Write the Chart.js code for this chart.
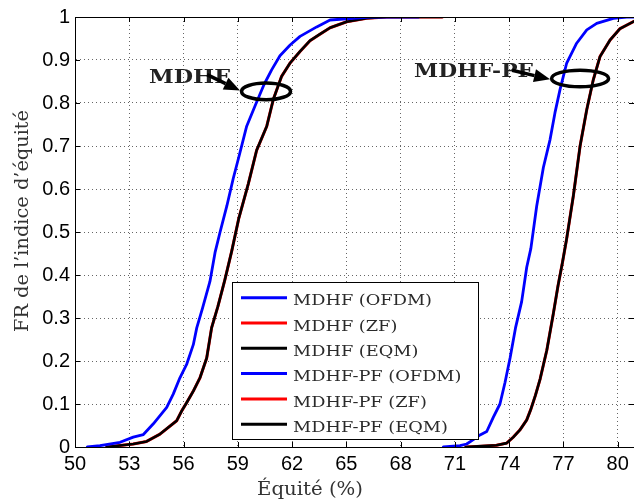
<!DOCTYPE html>
<html><head><meta charset="utf-8">
<script src="https://cdn.jsdelivr.net/npm/chart.js@4/dist/chart.umd.min.js"></script>
<style>html,body{margin:0;padding:0;background:#fff;overflow:hidden}canvas{display:block}</style>
</head><body>
<canvas id="c" width="634" height="501"></canvas>
<script>
// ---- tick labels ----
const xTicks = [50, 53, 56, 59, 62, 65, 68, 71, 74, 77, 80];
const yTicks = [0, 0.1, 0.2, 0.3, 0.4, 0.5, 0.6, 0.7, 0.8, 0.9, 1];
const xTitle = "Équité (%)";
const yTitle = "FR de l’indice d’équité";

// ---- series names ----
const seriesLabels = ["MDHF (OFDM)", "MDHF (ZF)", "MDHF (EQM)", "MDHF-PF (OFDM)", "MDHF-PF (ZF)", "MDHF-PF (EQM)"];

// ---- MDHF (OFDM) ----
const mdhfOfdmX = [50.68, 51.38, 52.49, 53.22, 53.78, 54.33, 55.07, 55.43, 55.80, 56.17, 56.54, 56.73, 57.05, 57.46, 57.74, 58.02, 58.39, 58.75, 59.06, 59.49, 59.95, 60.45, 60.87, 61.33, 61.89, 62.44, 63.36, 64.10, 65.38, 66.30, 69.00];
const mdhfOfdmF = [0, 0.003, 0.011, 0.023, 0.029, 0.054, 0.092, 0.123, 0.161, 0.192, 0.238, 0.277, 0.323, 0.385, 0.452, 0.500, 0.560, 0.625, 0.675, 0.746, 0.793, 0.843, 0.877, 0.910, 0.935, 0.955, 0.977, 0.993, 0.997, 1.000, 1.000];
// ---- MDHF (ZF) ----
const mdhfZfX = [51.75, 53.22, 53.96, 54.70, 55.62, 55.90, 56.17, 56.54, 56.91, 57.28, 57.55, 57.90, 58.28, 58.66, 59.05, 59.58, 60.04, 60.60, 60.96, 61.42, 61.89, 62.44, 62.99, 63.54, 64.10, 65.02, 66.12, 67.23, 70.30];
const mdhfZfF = [0, 0.007, 0.013, 0.030, 0.061, 0.084, 0.103, 0.130, 0.161, 0.207, 0.277, 0.327, 0.388, 0.455, 0.531, 0.612, 0.690, 0.746, 0.808, 0.862, 0.893, 0.920, 0.945, 0.960, 0.975, 0.989, 0.997, 1.000, 1.000];
// ---- MDHF (EQM) ----
const mdhfEqmX = [51.75, 53.22, 53.96, 54.70, 55.62, 55.90, 56.17, 56.54, 56.91, 57.28, 57.55, 57.90, 58.28, 58.66, 59.05, 59.58, 60.04, 60.60, 60.96, 61.42, 61.89, 62.44, 62.99, 63.54, 64.10, 65.02, 66.12, 67.23, 70.30];
const mdhfEqmF = [0, 0.007, 0.013, 0.030, 0.061, 0.084, 0.103, 0.130, 0.161, 0.207, 0.277, 0.327, 0.388, 0.455, 0.531, 0.612, 0.690, 0.746, 0.808, 0.862, 0.893, 0.920, 0.945, 0.960, 0.975, 0.989, 0.997, 1.000, 1.000];
// ---- MDHF-PF (OFDM) ----
const mdhfPfOfdmX = [70.36, 71.28, 71.65, 72.02, 72.39, 72.76, 73.12, 73.49, 73.77, 74.05, 74.35, 74.69, 74.97, 75.20, 75.52, 75.89, 76.26, 76.53, 76.81, 77.18, 77.73, 78.29, 78.84, 79.76, 80.50, 80.90];
const mdhfPfOfdmF = [0, 0.003, 0.007, 0.017, 0.028, 0.036, 0.069, 0.100, 0.150, 0.207, 0.277, 0.338, 0.418, 0.462, 0.560, 0.650, 0.715, 0.777, 0.831, 0.893, 0.939, 0.970, 0.985, 0.997, 1.000, 1.000];
// ---- MDHF-PF (ZF) ----
const mdhfPfZfX = [71.60, 72.50, 73.30, 73.86, 74.23, 74.60, 74.97, 75.20, 75.45, 75.71, 76.08, 76.44, 76.70, 76.95, 77.18, 77.55, 77.92, 78.29, 78.65, 79.02, 79.57, 80.13, 80.90];
const mdhfPfZfF = [0, 0.002, 0.004, 0.009, 0.023, 0.040, 0.063, 0.088, 0.120, 0.158, 0.225, 0.310, 0.375, 0.430, 0.485, 0.585, 0.700, 0.785, 0.854, 0.908, 0.946, 0.973, 0.990];
// ---- MDHF-PF (EQM) ----
const mdhfPfEqmX = [71.60, 72.50, 73.30, 73.86, 74.23, 74.60, 74.97, 75.20, 75.45, 75.71, 76.08, 76.44, 76.70, 76.95, 77.18, 77.55, 77.92, 78.29, 78.65, 79.02, 79.57, 80.13, 80.90];
const mdhfPfEqmF = [0, 0.002, 0.004, 0.009, 0.023, 0.040, 0.063, 0.088, 0.120, 0.158, 0.225, 0.310, 0.375, 0.430, 0.485, 0.585, 0.700, 0.785, 0.854, 0.908, 0.946, 0.973, 0.990];

// ---- annotations (data coordinates) ----
const annoLabels = ["MDHF", "MDHF-PF"];
const annoTextAt = [[54.09, 0.859], [68.74, 0.873]];
const annoArrowFrom = [[57.30, 0.866], [74.16, 0.876]];
const annoArrowTo = [[59.12, 0.829], [76.26, 0.855]];
const annoEllipseAt = [[60.56, 0.827], [77.92, 0.857]];

const pts = (xs, ys) => xs.map((x, i) => ({x: x, y: ys[i]}));
const BLUE = '#0000ff', RED = '#ff0000', BLACK = '#000000';

const datasets = [
  {label: seriesLabels[0], data: pts(mdhfOfdmX, mdhfOfdmF), borderColor: BLUE, borderWidth: 2.8, order: 0},
  {label: seriesLabels[1], data: pts(mdhfZfX, mdhfZfF), borderColor: RED, borderWidth: 3.0, order: 2},
  {label: seriesLabels[2], data: pts(mdhfEqmX, mdhfEqmF), borderColor: BLACK, borderWidth: 2.6, order: 1},
  {label: seriesLabels[3], data: pts(mdhfPfOfdmX, mdhfPfOfdmF), borderColor: BLUE, borderWidth: 2.8, order: 0},
  {label: seriesLabels[4], data: pts(mdhfPfZfX, mdhfPfZfF), borderColor: RED, borderWidth: 3.0, order: 2},
  {label: seriesLabels[5], data: pts(mdhfPfEqmX, mdhfPfEqmF), borderColor: BLACK, borderWidth: 2.6, order: 1}
];
datasets.forEach(d => { d.fill = false; d.pointRadius = 0; d.tension = 0; });

function fitText(ctx, text, x, y, targetW, align) {
  const w = ctx.measureText(text).width;
  const sx = targetW / w;
  ctx.save();
  ctx.translate(x, y);
  ctx.scale(sx, 1);
  ctx.textAlign = align;
  ctx.fillText(text, 0, 0);
  ctx.restore();
}

const decor = {
  id: 'decor',
  afterDraw(chart) {
    const ctx = chart.ctx, a = chart.chartArea;
    const xs = chart.scales.x, ys = chart.scales.y;
    ctx.save();
    // top border
    ctx.strokeStyle = '#000'; ctx.lineWidth = 1;
    ctx.beginPath(); ctx.moveTo(a.left, a.top + 0.5); ctx.lineTo(a.right, a.top + 0.5); ctx.stroke();
    // inner ticks
    ctx.beginPath();
    xTicks.forEach(v => {
      const px = Math.round(xs.getPixelForValue(v)) + 0.5;
      ctx.moveTo(px, a.bottom); ctx.lineTo(px, a.bottom - 5);
      ctx.moveTo(px, a.top); ctx.lineTo(px, a.top + 5);
    });
    yTicks.forEach(v => {
      const py = Math.round(ys.getPixelForValue(v)) + 0.5;
      ctx.moveTo(a.left, py); ctx.lineTo(a.left + 5, py);
      ctx.moveTo(a.right, py); ctx.lineTo(a.right - 5, py);
    });
    ctx.stroke();

    // legend box
    const bx = 232.5, by = 282.5, bw = 246, bh = 157;
    ctx.fillStyle = '#fff';
    ctx.fillRect(bx, by, bw, bh);
    ctx.strokeStyle = '#000'; ctx.lineWidth = 1;
    ctx.strokeRect(bx, by, bw, bh);
    ctx.font = '15px "DejaVu Serif"';
    const sx = 139 / ctx.measureText(seriesLabels[0]).width;
    ctx.textBaseline = 'alphabetic';
    seriesLabels.forEach((lab, i) => {
      const ds = chart.data.datasets[i];
      const base = 305.3 + i * 25.3;
      const ly = base - 7.6;
      ctx.strokeStyle = ds.borderColor; ctx.lineWidth = 3;
      ctx.beginPath(); ctx.moveTo(241, ly); ctx.lineTo(287, ly); ctx.stroke();
      ctx.fillStyle = '#2a2a2a';
      ctx.save(); ctx.translate(293, base); ctx.scale(sx, 1); ctx.textAlign = 'left'; ctx.fillText(lab, 0, 0); ctx.restore();
    });

    // annotations
    const textW = [81, 119];
    annoLabels.forEach((lab, i) => {
      ctx.font = 'bold 19px "DejaVu Serif"';
      ctx.fillStyle = '#222';
      ctx.textBaseline = 'middle';
      const tx = xs.getPixelForValue(annoTextAt[i][0]), ty = ys.getPixelForValue(annoTextAt[i][1]);
      fitText(ctx, lab, tx, ty, textW[i], 'left');
      // ellipse
      const ex = xs.getPixelForValue(annoEllipseAt[i][0]), ey = ys.getPixelForValue(annoEllipseAt[i][1]);
      ctx.strokeStyle = '#000'; ctx.lineWidth = 3.5;
      ctx.beginPath(); ctx.ellipse(ex, ey, i === 0 ? 24.5 : 28.5, 8.3, 0, 0, Math.PI * 2); ctx.stroke();
      // arrow
      const x1 = xs.getPixelForValue(annoArrowFrom[i][0]), y1 = ys.getPixelForValue(annoArrowFrom[i][1]);
      const x2 = xs.getPixelForValue(annoArrowTo[i][0]), y2 = ys.getPixelForValue(annoArrowTo[i][1]);
      const ang = Math.atan2(y2 - y1, x2 - x1);
      const hl = 16, hw = 6.5;
      const hx = x2 - hl * Math.cos(ang), hy = y2 - hl * Math.sin(ang);
      ctx.lineWidth = 3.5; ctx.lineCap = 'butt';
      ctx.beginPath(); ctx.moveTo(x1, y1); ctx.lineTo(hx, hy); ctx.stroke();
      ctx.fillStyle = '#000';
      ctx.beginPath(); ctx.moveTo(x2, y2);
      ctx.lineTo(hx + hw * Math.sin(ang), hy - hw * Math.cos(ang));
      ctx.lineTo(hx - hw * Math.sin(ang), hy + hw * Math.cos(ang));
      ctx.closePath(); ctx.fill();
    });

    // axis titles
    ctx.font = '18px "DejaVu Serif"';
    ctx.fillStyle = '#333';
    ctx.textBaseline = 'alphabetic';
    fitText(ctx, xTitle, 310, 495, 106, 'center');
    ctx.save();
    ctx.translate(28, 221);
    ctx.rotate(-Math.PI / 2);
    fitText(ctx, yTitle, 0, 0, 222, 'center');
    ctx.restore();
    ctx.restore();
  }
};

new Chart(document.getElementById('c'), {
  type: 'line',
  data: {datasets: datasets},
  options: {
    responsive: false,
    animation: false,
    layout: {padding: {top: 13, right: 0, left: 0, bottom: 0}},
    elements: {point: {radius: 0}, line: {tension: 0, borderJoinStyle: 'round', borderCapStyle: 'round'}},
    plugins: {legend: {display: false}, tooltip: {enabled: false}},
    scales: {
      x: {
        type: 'linear', min: 50, max: 80.9,
        afterBuildTicks: s => { s.ticks = xTicks.map(v => ({value: v})); },
        afterFit: s => { s.height = 54; },
        grid: {color: '#666', lineWidth: 1, drawTicks: false},
        border: {display: true, color: '#000', width: 1, dash: [1, 3]},
        ticks: {color: '#000', font: {family: 'Liberation Sans', size: 20}, padding: 5, maxRotation: 0, autoSkip: false, callback: v => String(v)}
      },
      y: {
        type: 'linear', min: 0, max: 1,
        afterBuildTicks: s => { s.ticks = yTicks.map(v => ({value: v})); },
        afterFit: s => { s.width = 75; },
        grid: {color: '#666', lineWidth: 1, drawTicks: false},
        border: {display: true, color: '#000', width: 1, dash: [1, 3]},
        ticks: {color: '#000', font: {family: 'Liberation Sans', size: 20}, padding: 5, autoSkip: false, callback: v => String(v)}
      }
    }
  },
  plugins: [decor]
});
</script>
</body></html>
